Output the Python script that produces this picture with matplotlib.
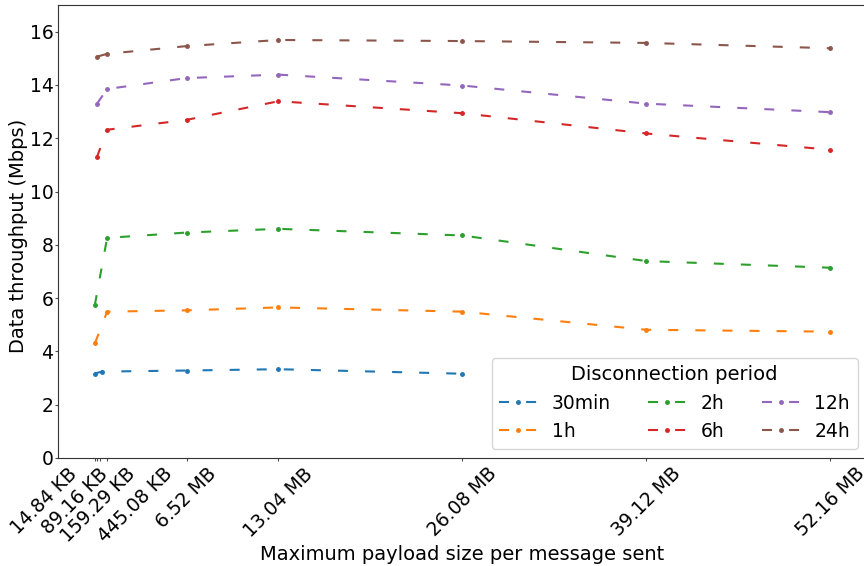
import matplotlib
matplotlib.use("Agg")
import matplotlib.pyplot as plt
import matplotlib.transforms as mtransforms

# x positions (MB) used by the plot, tick labels shown under them
tick_pos = [0.0, 0.16, 0.42, 0.89, 6.52, 13.04, 26.08, 39.12, 52.16]
tick_labels = ["14.84 KB", "89.16 KB", "159.29 KB", "445.08 KB",
               "6.52 MB", "13.04 MB", "26.08 MB", "39.12 MB", "52.16 MB"]

x_30min = [0.0, 0.5, 6.52, 13.04, 26.08]
y_30min = [3.16, 3.24, 3.28, 3.33, 3.16]

x_1h = [0.03, 0.89, 6.52, 13.04, 26.08, 39.12, 52.16]
y_1h = [4.31, 5.49, 5.54, 5.65, 5.49, 4.81, 4.74]

x_2h = [0.02, 0.89, 6.52, 13.04, 26.08, 39.12, 52.16]
y_2h = [5.74, 8.26, 8.46, 8.60, 8.35, 7.39, 7.14]

x_6h = [0.16, 0.89, 6.52, 13.04, 26.08, 39.12, 52.16]
y_6h = [11.28, 12.32, 12.69, 13.39, 12.94, 12.18, 11.57]

x_12h = [0.18, 0.89, 6.52, 13.04, 26.08, 39.12, 52.16]
y_12h = [13.30, 13.85, 14.26, 14.39, 13.98, 13.30, 12.98]

x_24h = [0.15, 0.89, 6.52, 13.04, 26.08, 39.12, 52.16]
y_24h = [15.06, 15.17, 15.46, 15.69, 15.65, 15.58, 15.38]

# pixel shifts for the crowded KB labels
label_shift_px = [-50, -22, -2, 28, 0, 0, 0, 0, 0]


def main():
    fig = plt.figure(figsize=(8.64, 5.66), dpi=100)
    # the right side of the axes runs just past the image edge, as in the source
    ax = fig.add_axes([0.067, 0.191, 0.9365, 0.800])

    series = [
        ("30min", x_30min, y_30min),
        ("1h", x_1h, y_1h),
        ("2h", x_2h, y_2h),
        ("6h", x_6h, y_6h),
        ("12h", x_12h, y_12h),
        ("24h", x_24h, y_24h),
    ]
    for name, xs, ys in series:
        ax.plot(xs, ys, linestyle="--", dashes=(4.8, 8.2), marker=".",
                markersize=5, linewidth=1.5, label=name)

    ax.set_xlim(-2.6, 54.77)
    ax.set_ylim(0, 17)
    ax.set_yticks(range(0, 17, 2))
    ax.tick_params(axis="both", labelsize=13.5, length=2, pad=2.5,
                   color="0.3")
    ax.tick_params(axis="y", pad=1.2)
    for sp in ax.spines.values():
        sp.set_color("0.2")

    ax.set_xticks(tick_pos)
    ax.set_xticklabels(tick_labels, rotation=45, ha="center")
    for lab, dx in zip(ax.get_xticklabels(), label_shift_px):
        if dx:
            off = mtransforms.ScaledTranslation(dx / 100.0, 0, fig.dpi_scale_trans)
            lab.set_transform(lab.get_transform() + off)

    ax.set_xlabel("Maximum payload size per message sent", fontsize=14,
                  labelpad=-1)
    ax.set_ylabel("Data throughput (Mbps)", fontsize=14)
    ax.yaxis.set_label_coords(-0.037, 0.49)

    ax.legend(title="Disconnection period", ncol=3, loc="lower right",
              fontsize=13.5, title_fontsize=14, columnspacing=2.0,
              handlelength=2.0, borderaxespad=0.5)

    fig.savefig("out.png", dpi=100)
    plt.close(fig)


if __name__ == "__main__":
    main()
